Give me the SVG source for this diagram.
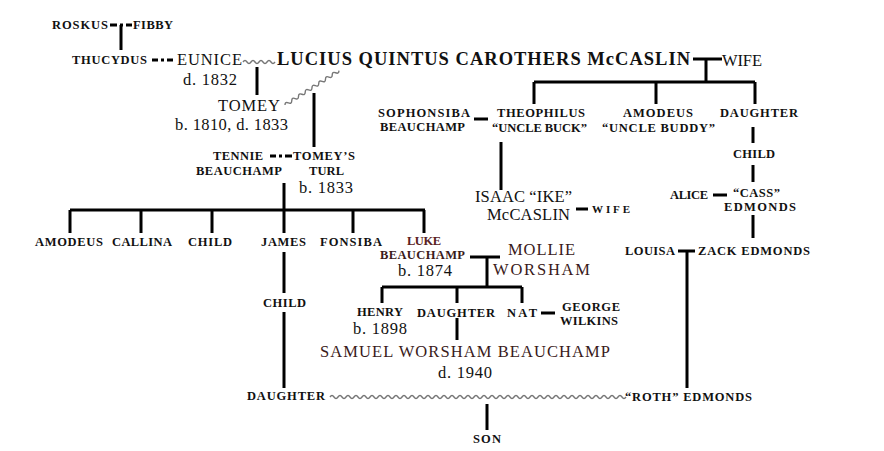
<svg xmlns="http://www.w3.org/2000/svg" width="884" height="451" viewBox="0 0 884 451">
<style>
.s{font-family:"Liberation Serif","Times New Roman",serif;font-weight:bold;font-size:12.5px;fill:#111}
.w{font-size:11px}
.l{font-family:"Liberation Serif","Times New Roman",serif;font-size:16.5px;fill:#111}
.b{font-family:"Liberation Serif","Times New Roman",serif;font-weight:bold;font-size:18.5px;fill:#111}
.r{fill:#3a1a1a}
.lk{fill:#5a2222}
.c{stroke:#000;stroke-width:3;fill:none}
.wv{stroke:#777;stroke-width:1.4;fill:none}
</style>
<rect width="884" height="451" fill="#fff"/>
<g id="connectors">
<path class="c" d="M110,25H117M120,25H123M126,25H132M121,25V50"/>
<path class="c" d="M152,60H158M161,60H164M167,60H173"/>
<path class="wv" d="M243,62q2,-3 4,0t4,0t4,0t4,0t4,0t4,0t4,0t4,0"/>
<path class="c" d="M257,67V95"/>
<path class="wv" transform="translate(285,105) rotate(-32.5)" d="M0,0q2,-3 4,0t4,0t4,0t4,0t4,0t4,0t4,0t4,0t4,0t4,0t4,0t4,0t4,0t4,0t4,0t4,0"/>
<path class="c" d="M314,93V147"/>
<path class="c" d="M270,156H276M279,156H282M285,156H292"/>
<path class="c" d="M284,183V210M70,210H425M70,210V233M141,210V233M212,210V233M284,210V233M353,210V233M424,210V233"/>
<path class="c" d="M284,252V293M284,312V388"/>
<path class="wv" d="M330,397q2,-3 4,0t4,0t4,0t4,0t4,0t4,0t4,0t4,0t4,0t4,0t4,0t4,0t4,0t4,0t4,0t4,0t4,0t4,0t4,0t4,0t4,0t4,0t4,0t4,0t4,0t4,0t4,0t4,0t4,0t4,0t4,0t4,0t4,0t4,0t4,0t4,0t4,0t4,0t4,0t4,0t4,0t4,0t4,0t4,0t4,0t4,0t4,0t4,0t4,0t4,0t4,0t4,0t4,0t4,0t4,0t4,0t4,0t4,0t4,0t4,0t4,0t4,0t4,0t4,0t4,0t4,0t4,0t4,0t4,0t4,0t4,0t4,0t4,0t4,0"/>
<path class="c" d="M487,404V430"/>
<path class="c" d="M693,59H722M706,59V82M534,82H755M534,82V104M656,82V104M755,82V104"/>
<path class="c" d="M474,119H488"/>
<path class="c" d="M501,142V190"/>
<path class="c" d="M576,209H588"/>
<path class="c" d="M753,127V143M753,165V182M753,215V238"/>
<path class="c" d="M713,195H727"/>
<path class="c" d="M678,251H695M687,251V388"/>
<path class="c" d="M470,257H500M487,257V287M382,287H522M382,287V303M457,287V303M522,287V303"/>
<path class="c" d="M541,313H555"/>
<path class="c" d="M457,318V340"/>
</g>
<g id="roskus"><text class="s" x="52" y="29" textLength="56">ROSKUS</text></g>
<g id="fibby"><text class="s" x="133" y="29" textLength="40">FIBBY</text></g>
<g id="thucydus"><text class="s" x="72" y="64" textLength="75">THUCYDUS</text></g>
<g id="eunice"><text class="l" x="177" y="65" textLength="65">EUNICE</text><text class="l" x="183" y="85" textLength="54">d. 1832</text></g>
<g id="lqcm"><text class="b" x="277" y="65" textLength="413">LUCIUS QUINTUS CAROTHERS McCASLIN</text></g>
<g id="wife1"><text class="l" x="722" y="66" textLength="40">WIFE</text></g>
<g id="tomey"><text class="l" x="218" y="111" textLength="62">TOMEY</text><text class="l" x="175" y="130" textLength="113">b. 1810, d. 1833</text></g>
<g id="sophonsiba"><text class="s" x="378" y="117" textLength="92">SOPHONSIBA</text><text class="s" x="380" y="131" textLength="85">BEAUCHAMP</text></g>
<g id="theophilus"><text class="s" x="497" y="117" textLength="88">THEOPHILUS</text><text class="s" x="492" y="132" textLength="95">“UNCLE BUCK”</text></g>
<g id="amodeus1"><text class="s" x="623" y="117" textLength="70">AMODEUS</text><text class="s" x="602" y="132" textLength="113">“UNCLE BUDDY”</text></g>
<g id="daughter1"><text class="s" x="720" y="117" textLength="78">DAUGHTER</text></g>
<g id="child1"><text class="s" x="733" y="158" textLength="42">CHILD</text></g>
<g id="alice"><text class="s" x="670" y="199" textLength="38">ALICE</text></g>
<g id="cass"><text class="s" x="733" y="197" textLength="47">“CASS”</text><text class="s" x="724" y="211" textLength="72">EDMONDS</text></g>
<g id="tennie"><text class="s" x="213" y="160" textLength="50">TENNIE</text><text class="s" x="196" y="175" textLength="86">BEAUCHAMP</text></g>
<g id="turl"><text class="s" x="293" y="160" textLength="62">TOMEY’S</text><text class="s" x="309" y="175" textLength="35">TURL</text><text class="l" x="299" y="193" textLength="54">b. 1833</text></g>
<g id="isaac"><text class="l" x="475" y="202" textLength="97">ISAAC “IKE”</text><text class="l" x="487" y="220" textLength="83">McCASLIN</text></g>
<g id="wife2"><text class="s w" x="592" y="213" textLength="38">WIFE</text></g>
<g id="amodeus2"><text class="s" x="35" y="246" textLength="68">AMODEUS</text></g>
<g id="callina"><text class="s" x="112" y="246" textLength="60">CALLINA</text></g>
<g id="child2"><text class="s" x="188" y="246" textLength="44">CHILD</text></g>
<g id="james"><text class="s" x="261" y="246" textLength="45">JAMES</text></g>
<g id="fonsiba"><text class="s" x="320" y="246" textLength="62">FONSIBA</text></g>
<g id="luke"><text class="s lk" x="407" y="245" textLength="34">LUKE</text><text class="s r" x="380" y="259" textLength="85">BEAUCHAMP</text><text class="l" x="398" y="276" textLength="54">b. 1874</text></g>
<g id="mollie"><text class="l r" x="508" y="255" textLength="67">MOLLIE</text><text class="l r" x="493" y="275" textLength="97">WORSHAM</text></g>
<g id="louisa"><text class="s" x="625" y="255" textLength="50">LOUISA</text></g>
<g id="zack"><text class="s" x="698" y="255" textLength="112">ZACK EDMONDS</text></g>
<g id="child3"><text class="s" x="263" y="307" textLength="43">CHILD</text></g>
<g id="henry"><text class="s" x="357" y="316" textLength="46">HENRY</text><text class="l" x="353" y="334" textLength="54">b. 1898</text></g>
<g id="daughter2"><text class="s" x="417" y="317" textLength="78">DAUGHTER</text></g>
<g id="nat"><text class="s" x="507" y="317" textLength="30">NAT</text></g>
<g id="george"><text class="s" x="562" y="311" textLength="58">GEORGE</text><text class="s" x="560" y="325" textLength="58">WILKINS</text></g>
<g id="samuel"><text class="l r" x="320" y="357" textLength="290">SAMUEL WORSHAM BEAUCHAMP</text><text class="l" x="438" y="378" textLength="54">d. 1940</text></g>
<g id="daughter3"><text class="s" x="247" y="400" textLength="78">DAUGHTER</text></g>
<g id="roth"><text class="s" x="625" y="401" textLength="127">“ROTH” EDMONDS</text></g>
<g id="son"><text class="s" x="473" y="443" textLength="28">SON</text></g>
</svg>
